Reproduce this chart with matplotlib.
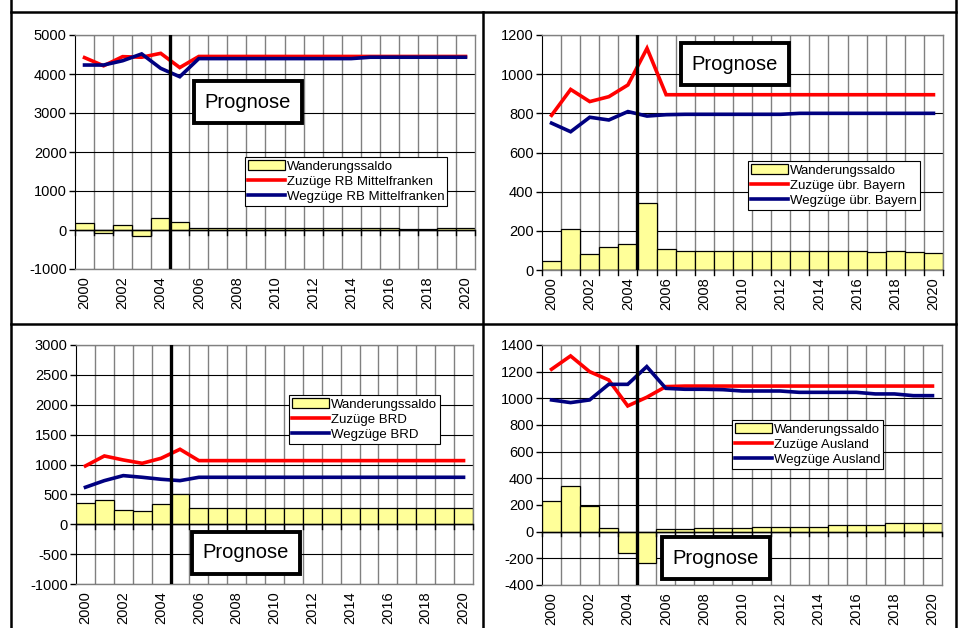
import numpy as np
import matplotlib.pyplot as plt
from matplotlib.lines import Line2D
from matplotlib.patches import Patch

plt.rcParams['font.family'] = ['Liberation Sans', 'DejaVu Sans']

years = list(range(2000, 2021))

# Regierungsbezirk Mittelfranken
rb_zu = [4420, 4210, 4445, 4430, 4530, 4165, 4450, 4450, 4450, 4450, 4450, 4450, 4450,
         4450, 4450, 4450, 4450, 4450, 4450, 4450, 4450]
rb_weg = [4230, 4230, 4340, 4515, 4145, 3930, 4395, 4395, 4395, 4395, 4395, 4395, 4395,
          4395, 4395, 4430, 4430, 4430, 4430, 4430, 4430]
rb_saldo = [170, -70, 140, -150, 320, 200, 60, 60, 60, 60, 60, 60, 60,
            60, 60, 60, 60, 20, 20, 50, 50]

# übriges Bayern
by_zu = [790, 922, 860, 885, 945, 1132, 895, 895, 895, 895, 895, 895, 895,
         895, 895, 895, 895, 895, 895, 895, 895]
by_weg = [750, 706, 780, 766, 809, 786, 793, 795, 795, 795, 795, 795, 795,
          800, 800, 800, 800, 800, 800, 800, 800]
by_saldo = [46, 211, 82, 117, 133, 340, 105, 97, 97, 97, 97, 97, 97,
            97, 97, 97, 97, 90, 97, 90, 88]

# übrige Bundesländer
brd_zu = [976, 1143, 1076, 1020, 1104, 1255, 1065, 1065, 1065, 1065, 1065, 1065, 1065,
          1065, 1065, 1065, 1065, 1065, 1065, 1065, 1065]
brd_weg = [619, 730, 814, 786, 753, 730, 786, 786, 786, 786, 786, 786, 786,
           786, 786, 786, 786, 786, 786, 786, 786]
brd_saldo = [362, 407, 240, 223, 335, 508, 265, 265, 265, 265, 265, 265, 265,
             265, 265, 265, 265, 265, 265, 265, 265]

# Ausland
aus_zu = [1218, 1318, 1200, 1138, 943, 1008, 1088, 1092, 1092, 1092, 1092, 1092, 1092,
          1092, 1092, 1092, 1092, 1092, 1092, 1092, 1092]
aus_weg = [988, 968, 988, 1105, 1105, 1238, 1075, 1068, 1068, 1065, 1055, 1055, 1055,
           1045, 1045, 1045, 1045, 1033, 1033, 1020, 1020]
aus_saldo = [230, 345, 195, 30, -158, -233, 18, 18, 25, 25, 25, 38, 38,
             38, 38, 50, 50, 50, 62, 62, 62]

W, H = 962, 628


def fig_rect(left, top, right, bottom):
    return [left / W, 1 - bottom / H, (right - left) / W, (bottom - top) / H]


def panel(fig, rect, zu, weg, saldo, ylim, ystep, label, leg_xy, prog_xy):
    ax = fig.add_axes(fig_rect(*rect))
    x = np.arange(len(years))
    ymin, ymax = ylim

    ax.set_xlim(-0.5, len(years) - 0.5)
    ax.set_ylim(ymin, ymax)
    yt = np.arange(ymin, ymax + 1, ystep)
    ax.set_yticks(yt)
    ax.set_yticklabels([str(int(v)) for v in yt], fontsize=10.5)
    ax.tick_params(axis='y', length=4, width=1, color='black', pad=2)

    ax.set_xticks(x[::2])
    ax.set_xticklabels([str(y) for y in years[::2]], rotation=90, fontsize=10.5)
    ax.tick_params(axis='x', length=0, pad=5)

    # grid
    for b in np.arange(0.5, len(years) - 0.5):
        ax.axvline(b, color='#808080', lw=1, zorder=0)
    for v in yt:
        ax.axhline(v, color='black', lw=0.8, zorder=0)

    for s in ['top', 'right', 'bottom']:
        ax.spines[s].set_color('#808080')
        ax.spines[s].set_linewidth(1)
    ax.spines['left'].set_color('black')

    ax.bar(x, saldo, width=1.0, color='#FFFF99', edgecolor='black', lw=0.9, zorder=2)

    # category axis crossing at 0 with ticks
    ax.axhline(0, color='black', lw=1, zorder=3)
    tl = (ymax - ymin) * 0.02
    for b in np.arange(-0.5, len(years)):
        ax.plot([b, b], [0, -tl], color='black', lw=1, zorder=3, clip_on=False)

    ax.plot(x, zu, color='#FF0000', lw=2.6, zorder=4, solid_joinstyle='miter')
    ax.plot(x, weg, color='#000080', lw=2.6, zorder=4, solid_joinstyle='miter')
    ax.axvline(4.5, color='black', lw=2.4, zorder=5)

    handles = [Patch(facecolor='#FFFF99', edgecolor='black', lw=0.9),
               Line2D([], [], color='#FF0000', lw=2.6),
               Line2D([], [], color='#000080', lw=2.6)]
    labels = ['Wanderungssaldo', 'Zuzüge ' + label, 'Wegzüge ' + label]
    leg = ax.legend(handles, labels, loc='upper left',
                    bbox_to_anchor=(leg_xy[0] / W, 1 - leg_xy[1] / H),
                    bbox_transform=fig.transFigure, fontsize=9.5, frameon=True,
                    fancybox=False, framealpha=1, edgecolor='black',
                    borderpad=0.25, labelspacing=0.22, handlelength=2.8,
                    handletextpad=0.1, borderaxespad=0)
    leg.get_frame().set_linewidth(0.8)
    leg.set_zorder(10)

    fig.text(prog_xy[0] / W, 1 - prog_xy[1] / H, 'Prognose', fontsize=14.5,
             ha='center', va='center', zorder=20,
             bbox=dict(boxstyle='square,pad=0.55', facecolor='white',
                       edgecolor='black', linewidth=2.8))
    return ax


fig = plt.figure(figsize=(W / 100, H / 100), dpi=100)

panel(fig, (75, 35, 475, 269), rb_zu, rb_weg, rb_saldo, (-1000, 5000), 1000,
      'RB Mittelfranken', (245, 157), (248, 102))
panel(fig, (542, 35, 943, 270), by_zu, by_weg, by_saldo, (0, 1200), 200,
      'übr. Bayern', (748, 161), (735, 64))
panel(fig, (76, 345, 473, 584), brd_zu, brd_weg, brd_saldo, (-1000, 3000), 500,
      'BRD', (289, 395), (246, 553))
panel(fig, (542, 345, 942, 585), aus_zu, aus_weg, aus_saldo, (-400, 1400), 200,
      'Ausland', (732, 420), (716, 558))

# table frame around the four charts
frame = [((11, 11), (0, H)), ((956, 956), (0, H)), ((483, 483), (12, H)),
         ((11, 956), (12, 12)), ((11, 956), (324, 324))]
for xs, ys in frame:
    fig.add_artist(Line2D([v / W for v in xs], [1 - v / H for v in ys],
                          color='black', lw=1.8, transform=fig.transFigure))

fig.savefig('out.png', dpi=100)
